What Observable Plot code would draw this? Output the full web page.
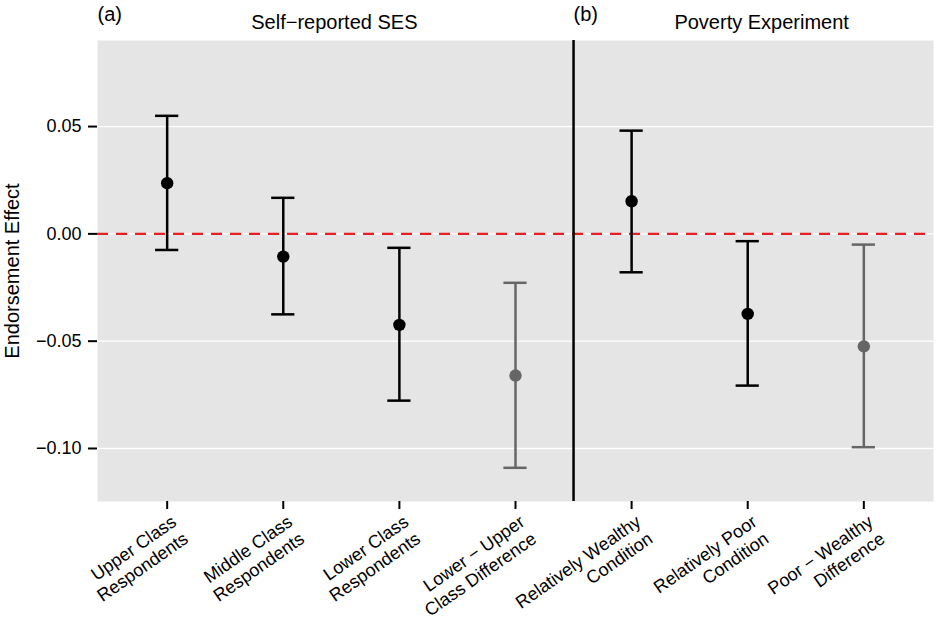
<!DOCTYPE html>
<html><head><meta charset="utf-8">
<script src="https://cdn.jsdelivr.net/npm/d3@7"></script>
<script src="https://cdn.jsdelivr.net/npm/@observablehq/plot@0.6"></script>
<style>
body{margin:0;background:#fff;}
#chart svg{font-family:"Liberation Sans",Arial,Helvetica,sans-serif;}
#chart g[aria-label="y-axis label"] text{font-size:20px;}
</style></head><body><div id="chart"></div>
<script>
const categories = ["Upper Class\nRespondents","Middle Class\nRespondents","Lower Class\nRespondents","Lower − Upper\nClass Difference","Relatively Wealthy\nCondition","Relatively Poor\nCondition","Poor − Wealthy\nDifference"];
const estimates = [0.0236,-0.0106,-0.0424,-0.0660,0.0152,-0.0373,-0.0524];
const lower = [-0.0075,-0.0375,-0.0777,-0.1090,-0.0179,-0.0707,-0.0994];
const upper = [0.0550,0.0168,-0.0065,-0.0228,0.0481,-0.0034,-0.0050];
const kinds = ["estimate","estimate","estimate","difference","estimate","estimate","difference"];
const yTicks = [-0.10,-0.05,0.00,0.05];
const panelTags = ["(a)","(b)"];
const panelTagPos = [-0.6, 3.5];
const panelTitles = ["Self−reported SES","Poverty Experiment"];
const panelTitlePos = [1.44, 5.12];
const dividerPos = [3.5];
const yLabel = "Endorsement Effect";

const rows = categories.map((c,i)=>({i, label:c, est:estimates[i], lo:lower[i], hi:upper[i], kind:kinds[i]}));
const tags = panelTags.map((t,i)=>({t, x:panelTagPos[i]}));
const titles = panelTitles.map((t,i)=>({t, x:panelTitlePos[i]}));
const colorOf = d => d.kind==="difference" ? "#666666" : "#000000";
const capHalf = 0.1;

const chart = Plot.plot({
  width:936, height:619, marginLeft:97, marginRight:3, marginTop:40, marginBottom:118,
  style:{fontFamily:'"Liberation Sans",Arial,Helvetica,sans-serif', fontSize:"18px", color:"#000", background:"#fff", overflow:"visible"},
  x:{type:"linear", domain:[-0.6,6.6], axis:null, label:null},
  y:{domain:[-0.1247,0.0901], axis:null, label:null},
  color:{type:"identity"},
  marks:[
    Plot.frame({fill:"#e5e5e5", stroke:null}),
    Plot.ruleY(yTicks,{stroke:"#ffffff", strokeWidth:1.3}),
    Plot.ruleY([0],{stroke:"#ea1f25", strokeWidth:2.3, strokeDasharray:"11,8"}),
    Plot.ruleX(dividerPos,{stroke:"#000", strokeWidth:2.5}),
    Plot.ruleX(rows,{x:"i", y1:"lo", y2:"hi", stroke:colorOf, strokeWidth:2.5}),
    Plot.ruleY(rows,{y:"lo", x1:d=>d.i-capHalf, x2:d=>d.i+capHalf, stroke:colorOf, strokeWidth:2.5}),
    Plot.ruleY(rows,{y:"hi", x1:d=>d.i-capHalf, x2:d=>d.i+capHalf, stroke:colorOf, strokeWidth:2.5}),
    Plot.dot(rows,{x:"i", y:"est", r:6.2, fill:colorOf, stroke:null}),
    Plot.axisY({ticks:yTicks, tickFormat:d3.format(".2f"), tickSize:9, tickPadding:7, strokeWidth:2, fontSize:18, label:yLabel, labelArrow:"none", labelAnchor:"center", labelOffset:93}),
    Plot.axisX({ticks:rows.map(d=>d.i), tickSize:8, strokeWidth:2, tickFormat:()=>"", label:null}),
    Plot.text(rows,{x:"i", text:"label", frameAnchor:"bottom", rotate:-35, textAnchor:"end", lineAnchor:"top", dx:2, dy:11, fontSize:18, lineHeight:1.15}),
    Plot.text(tags,{x:"x", text:"t", frameAnchor:"top", lineAnchor:"middle", dy:-26, textAnchor:"start", fontSize:20}),
    Plot.text(titles,{x:"x", text:"t", frameAnchor:"top", lineAnchor:"middle", dy:-17.5, fontSize:20})
  ]
});
document.getElementById("chart").append(chart);
</script></body></html>
